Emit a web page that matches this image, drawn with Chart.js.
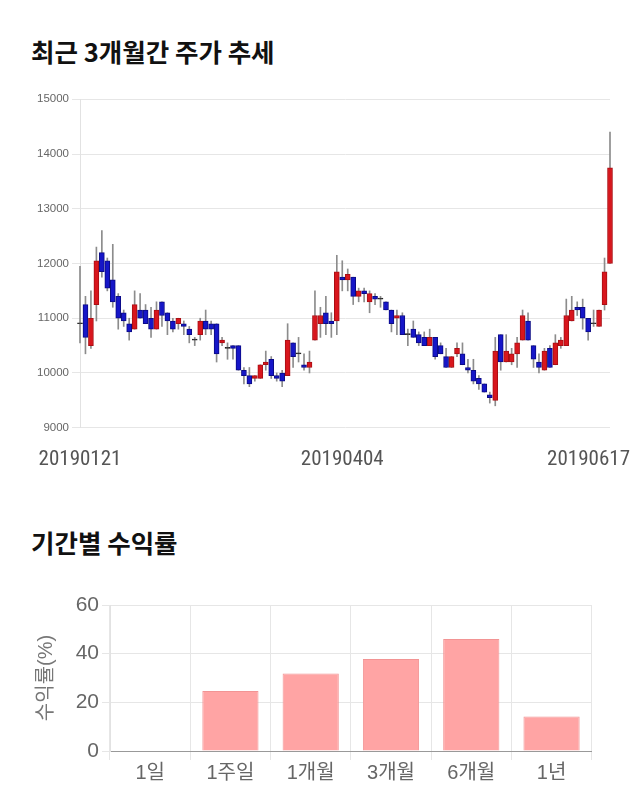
<!DOCTYPE html>
<html><head><meta charset="utf-8">
<script src="https://cdn.jsdelivr.net/npm/chart.js@4.4.1/dist/chart.umd.min.js"></script>
<style>
html,body{margin:0;padding:0;background:#fff;width:640px;height:810px;overflow:hidden;}
.title{position:absolute;left:31px;font-family:'Noto Sans CJK KR','Noto Sans',sans-serif;font-weight:700;font-size:25.5px;line-height:26px;color:#111;white-space:nowrap;}
canvas{position:absolute;left:0;}
</style></head><body>
<div class="title" style="top:38px">최근 3개월간 주가 추세</div>
<canvas id="c1" width="640" height="400" style="top:80px;width:640px;height:400px"></canvas>
<div class="title" style="top:529px">기간별 수익률</div>
<canvas id="c2" width="640" height="240" style="top:570px;width:640px;height:240px"></canvas>
<script>
const dates = [
'20190121','20190122','20190123','20190124','20190125','20190128','20190129','20190130','20190131',
'20190207','20190208','20190211','20190212','20190213','20190214','20190215','20190218','20190219','20190220','20190221','20190222','20190225','20190226','20190227','20190228',
'20190304','20190305','20190306','20190307','20190308','20190311','20190312','20190313','20190314','20190315','20190318','20190319','20190320','20190321','20190322','20190325','20190326','20190327','20190328','20190329',
'20190401','20190402','20190403','20190404','20190405','20190408','20190409','20190410','20190411','20190412','20190415','20190416','20190417','20190418','20190419','20190422','20190423','20190424','20190425','20190426','20190429','20190430',
'20190502','20190503','20190507','20190508','20190509','20190510','20190513','20190514','20190515','20190516','20190517','20190520','20190521','20190522','20190523','20190524','20190527','20190528','20190529','20190530','20190531',
'20190603','20190604','20190605','20190607','20190610','20190611','20190612','20190613','20190614','20190617'];

const openP = [10900,11250,10500,11250,12200,12050,11700,11400,11100,10900,
10800,11150,11150,11000,10800,11300,11100,10950,10900,10900,
10800,10600,10700,10950,10900,10900,10550,10450,10500,10500,
10050,9950,9900,9900,10150,10250,9950,10000,9950,10550,
10350,10150,10100,10600,10900,11100,10950,10950,11750,11700,
11750,11400,11500,11300,11400,11350,11300,11150,11000,11050,
10700,10800,10700,10650,10500,10650,10500,10300,10100,10350,
10350,10100,10050,9900,9800,9600,9500,10700,10200,10200,
10350,10600,10950,10500,10200,10050,10450,10150,10500,10500,
10950,11200,11200,11000,10900,10850,11250,12000];
const highP = [11950,11400,11500,12300,12600,12100,12350,11450,11150,11000,
11500,11450,11250,11200,11300,11300,11100,11000,11000,10950,
10850,10650,11000,11150,10950,10900,10650,10550,10500,10500,
10100,10100,9950,10150,10400,10300,10000,10050,10900,10550,
10650,10350,10400,11500,11200,11400,11100,12150,12050,11900,
11750,11550,11550,11500,11450,11400,11300,11150,11150,11100,
10800,10950,10750,10750,10800,10650,10550,10450,10300,10550,
10550,10250,10250,9950,9800,9650,10650,10700,10700,10450,
10650,11150,11100,10500,10350,10450,10500,10700,10650,11350,
11400,11300,11350,11000,11150,11150,12100,14400];
const lowP = [10550,10350,10450,10950,11750,11500,11200,10800,10850,10600,
10800,11000,10900,10650,10800,10850,10700,10750,10800,10700,
10550,10500,10600,10700,10700,10200,10500,10250,10250,10050,
9800,9750,9850,9900,10050,9900,9850,9750,9950,10100,
10200,10050,10000,10600,10650,10700,10650,10700,11500,11500,
11250,11300,11300,11100,11250,11200,11150,10750,10700,10700,
10500,10650,10500,10500,10500,10250,10350,10100,10100,10300,
10150,10000,9800,9700,9650,9450,9400,10050,10200,10150,
10100,10600,10600,10100,10000,10050,10100,10150,10450,10500,
10950,11050,10800,10600,10850,10850,11150,12000];
const closeP = [10900,10650,11000,12050,11850,11550,11300,11000,10950,10750,
11250,11000,10900,10800,11150,11050,10950,10800,11000,10850,
10700,10600,10950,10800,10800,10350,10600,10450,10450,10050,
9950,9800,9950,10150,10200,9950,9900,9850,10600,10300,
10350,10100,10200,11050,11050,10900,10900,11850,11700,11800,
11400,11500,11450,11450,11350,11350,11150,10900,11050,10700,
10700,10650,10550,10500,10650,10300,10350,10100,10300,10450,
10150,10050,9850,9800,9650,9550,10400,10200,10400,10350,
10550,11050,10600,10250,10100,10400,10100,10550,10600,11050,
11150,11150,11000,10750,10900,11150,11850,13750];

const xTickDates = ['20190121','20190404','20190617'];
const priceMin = 9000, priceMax = 15000, priceStep = 1000;

const periods = ['1일','1주일','1개월','3개월','6개월','1년'];
const returns = [0, 24.7, 31.9, 37.8, 46.0, 14.2];
const retMin = 0, retMax = 60, retStep = 20;

const latin = "'Liberation Sans', Arial, 'Noto Sans CJK KR', sans-serif";

const wickData = dates.map((d, i) => [lowP[i], highP[i]]);
const bodyData = dates.map((d, i) => [openP[i], closeP[i]]);
const bodyFill = dates.map((d, i) => closeP[i] > openP[i] ? '#d8161d' : (closeP[i] < openP[i] ? '#1616c8' : '#222222'));
const bodyEdge = dates.map((d, i) => closeP[i] > openP[i] ? '#a80f14' : (closeP[i] < openP[i] ? '#0b0b85' : '#222222'));

const xLabelPlugin = {
  id: 'xDateLabels',
  afterDraw(chart) {
    const ctx = chart.ctx, xs = chart.scales.x;
    ctx.save();
    ctx.font = "21px 'Liberation Sans Narrow', 'Roboto Condensed', 'Liberation Sans', sans-serif";
    ctx.fillStyle = '#555';
    ctx.textBaseline = 'middle';
    ctx.textAlign = 'center';
    xTickDates.forEach(d => {
      const i = dates.indexOf(d);
      if (i < 0) return;
      let x = xs.getPixelForValue(i);
      const w = ctx.measureText(d).width;
      x = Math.max(x, 10 + w / 2);
      x = Math.min(x, chart.width - 10 - w / 2);
      ctx.fillText(d, x, 380);
    });
    ctx.restore();
  }
};

new Chart(document.getElementById('c1'), {
  type: 'bar',
  data: {
    labels: dates,
    datasets: [
      { data: wickData, backgroundColor: '#8c8c8c', borderWidth: 0, barThickness: 1, grouped: false, order: 2, clip: false },
      { data: bodyData, backgroundColor: bodyFill, borderColor: bodyEdge, borderWidth: 1, borderSkipped: false,
        barThickness: 5, minBarLength: 1, grouped: false, order: 1, clip: false }
    ]
  },
  options: {
    responsive: false, animation: false, events: [],
    layout: { padding: { left: 0, right: 30, top: 19.3, bottom: 0 } },
    plugins: { legend: { display: false }, tooltip: { enabled: false } },
    scales: {
      x: { offset: false, grid: { display: false }, border: { display: false }, ticks: { display: false },
           afterFit: s => { s.height = 52.3; } },
      y: { min: priceMin, max: priceMax,
           ticks: { stepSize: priceStep, color: '#666', font: { family: latin, size: 11.5 }, padding: 3,
                    callback: v => String(v) },
           grid: { color: '#e6e6e6', tickLength: 8 }, border: { color: '#e2e2e2' },
           afterFit: s => { s.width = 80; } }
    }
  },
  plugins: [xLabelPlugin]
});

new Chart(document.getElementById('c2'), {
  type: 'bar',
  data: {
    labels: periods,
    datasets: [{ data: returns, backgroundColor: '#ffa4a4', borderColor: '#f29494', borderWidth: 1,
                 barPercentage: 0.875, categoryPercentage: 0.8 }]
  },
  options: {
    responsive: false, animation: false, events: [],
    layout: { padding: { left: 0, right: 48.3, top: 35, bottom: 0 } },
    plugins: { legend: { display: false }, tooltip: { enabled: false } },
    scales: {
      x: { grid: { color: '#e6e6e6', tickLength: 9, offset: true }, border: { color: '#999' },
           ticks: { color: '#666', font: { family: latin, size: 20 }, padding: 1 },
           afterFit: s => { s.height = 59; } },
      y: { min: retMin, max: retMax,
           ticks: { stepSize: retStep, color: '#666', font: { family: latin, size: 21 }, padding: 3,
                    callback: v => String(v) },
           grid: { color: '#e6e6e6', tickLength: 8 }, border: { color: '#e2e2e2' },
           title: { display: true, text: '수익률(%)', color: '#777', font: { family: latin, size: 20 }, padding: { top: 34, bottom: 0 } },
           afterFit: s => { s.width = 110; } }
    }
  }
});
</script>
</body></html>
